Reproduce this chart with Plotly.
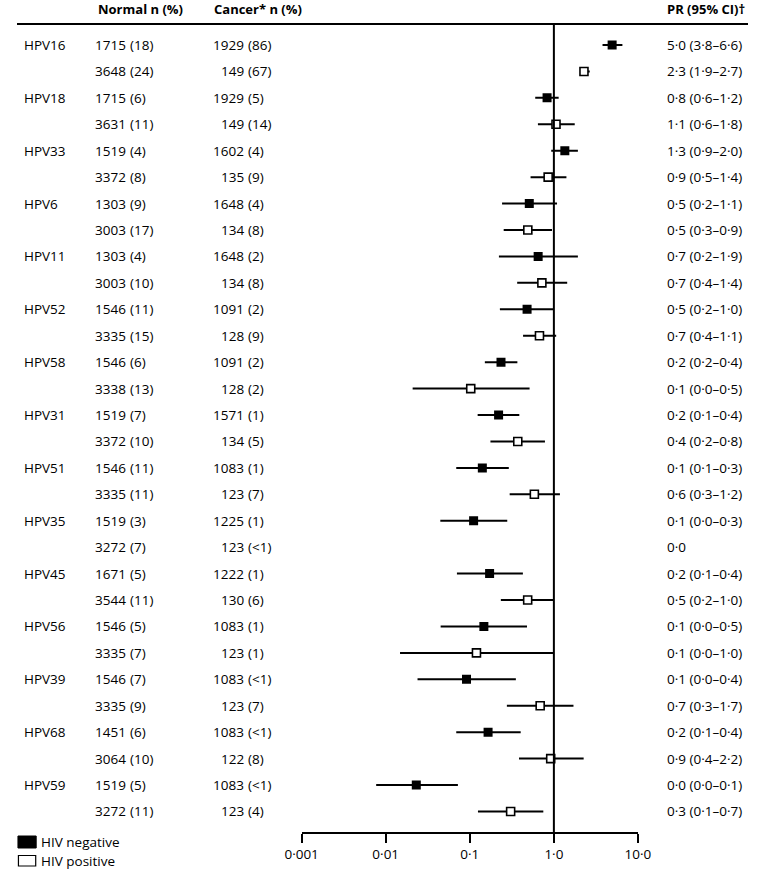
import plotly.graph_objects as go

# ---------------- data ----------------
hpv_types = ["HPV16", "HPV18", "HPV33", "HPV6", "HPV11", "HPV52", "HPV58", "HPV31",
             "HPV51", "HPV35", "HPV45", "HPV56", "HPV39", "HPV68", "HPV59"]

# HIV negative rows
neg_normal_n = ["1715", "1715", "1519", "1303", "1303", "1546", "1546", "1519",
                "1546", "1519", "1671", "1546", "1546", "1451", "1519"]
neg_normal_pct = ["(18)", "(6)", "(4)", "(9)", "(4)", "(11)", "(6)", "(7)",
                  "(11)", "(3)", "(5)", "(5)", "(7)", "(6)", "(5)"]
neg_cancer_n = ["1929", "1929", "1602", "1648", "1648", "1091", "1091", "1571",
                "1083", "1225", "1222", "1083", "1083", "1083", "1083"]
neg_cancer_pct = ["(86)", "(5)", "(4)", "(4)", "(2)", "(2)", "(2)", "(1)",
                  "(1)", "(1)", "(1)", "(1)", "(<1)", "(<1)", "(<1)"]
neg_pr_label = ["5·0 (3·8–6·6)", "0·8 (0·6–1·2)", "1·3 (0·9–2·0)", "0·5 (0·2–1·1)",
                "0·7 (0·2–1·9)", "0·5 (0·2–1·0)", "0·2 (0·2–0·4)", "0·2 (0·1–0·4)",
                "0·1 (0·1–0·3)", "0·1 (0·0–0·3)", "0·2 (0·1–0·4)", "0·1 (0·0–0·5)",
                "0·1 (0·0–0·4)", "0·2 (0·1–0·4)", "0·0 (0·0–0·1)"]
neg_pr = [4.93, 0.83, 1.35, 0.51, 0.65, 0.48, 0.235, 0.22, 0.141, 0.111, 0.172, 0.147, 0.0914, 0.165, 0.0231]
neg_lo = [3.79, 0.60, 0.93, 0.242, 0.222, 0.228, 0.151, 0.124, 0.069, 0.0446, 0.0703, 0.045, 0.0239, 0.069, 0.0077]
neg_hi = [6.53, 1.14, 1.93, 1.09, 1.93, 1.0, 0.368, 0.388, 0.291, 0.279, 0.428, 0.479, 0.353, 0.403, 0.0722]

# HIV positive rows
pos_normal_n = ["3648", "3631", "3372", "3003", "3003", "3335", "3338", "3372",
                "3335", "3272", "3544", "3335", "3335", "3064", "3272"]
pos_normal_pct = ["(24)", "(11)", "(8)", "(17)", "(10)", "(15)", "(13)", "(10)",
                  "(11)", "(7)", "(11)", "(7)", "(9)", "(10)", "(11)"]
pos_cancer_n = ["149", "149", "135", "134", "134", "128", "128", "134",
                "123", "123", "130", "123", "123", "122", "123"]
pos_cancer_pct = ["(67)", "(14)", "(9)", "(8)", "(8)", "(9)", "(2)", "(5)",
                  "(7)", "(<1)", "(6)", "(1)", "(7)", "(8)", "(4)"]
pos_pr_label = ["2·3 (1·9–2·7)", "1·1 (0·6–1·8)", "0·9 (0·5–1·4)", "0·5 (0·3–0·9)",
                "0·7 (0·4–1·4)", "0·7 (0·4–1·1)", "0·1 (0·0–0·5)", "0·4 (0·2–0·8)",
                "0·6 (0·3–1·2)", "0·0", "0·5 (0·2–1·0)", "0·1 (0·0–1·0)",
                "0·7 (0·3–1·7)", "0·9 (0·4–2·2)", "0·3 (0·1–0·7)"]
pos_pr = [2.28, 1.06, 0.855, 0.49, 0.72, 0.674, 0.1026, 0.372, 0.586, None, 0.488, 0.12, 0.687, 0.917, 0.306]
pos_lo = [2.07, 0.646, 0.528, 0.253, 0.366, 0.43, 0.0209, 0.176, 0.298, None, 0.234, 0.0148, 0.276, 0.385, 0.125]
pos_hi = [2.67, 1.77, 1.41, 0.95, 1.44, 1.065, 0.514, 0.783, 1.18, None, 1.0, 1.0, 1.71, 2.26, 0.749]

tick_vals = [0.001, 0.01, 0.1, 1.0, 10.0]
tick_text = ["0·001", "0·01", "0·1", "1·0", "10·0"]

headers = ["Normal n (%)", "Cancer* n (%)", "PR (95% CI)†"]
legend_names = ["HIV negative", "HIV positive"]

# ---------------- layout helpers ----------------
W, H = 762, 871
ROW0_PX, ROW_STEP = 45.0, 26.43
FONT = "Open Sans, Noto Sans, DejaVu Sans, sans-serif"
FS = 13.5


def px(x):
    return x / W


def py(y):
    return 1 - y / H


neg_rows = [2 * i for i in range(len(hpv_types))]
pos_rows = [2 * i + 1 for i in range(len(hpv_types))]


def err_plus(v, hi):
    return [(h - x) if x is not None else 0 for x, h in zip(v, hi)]


def err_minus(v, lo):
    return [(x - l) if x is not None else 0 for x, l in zip(v, lo)]


fig = go.Figure()

fig.add_trace(go.Scatter(
    x=neg_pr, y=neg_rows, mode="markers", name=legend_names[0], showlegend=False,
    marker=dict(symbol="square", size=9, color="black", line=dict(width=0)),
    error_x=dict(type="data", symmetric=False, array=err_plus(neg_pr, neg_hi),
                 arrayminus=err_minus(neg_pr, neg_lo), color="black", thickness=2, width=0),
))
fig.add_trace(go.Scatter(
    x=pos_pr, y=pos_rows, mode="markers", name=legend_names[1], showlegend=False,
    marker=dict(symbol="square", size=8, color="white", line=dict(width=1.6, color="black")),
    error_x=dict(type="data", symmetric=False, array=err_plus(pos_pr, pos_hi),
                 arrayminus=err_minus(pos_pr, pos_lo), color="black", thickness=2, width=0),
))

ann = []


def add_text(xp, row, text, anchor="left"):
    ann.append(dict(x=px(xp), xref="paper", y=row, yref="y", text=text,
                    showarrow=False, xanchor=anchor, yanchor="middle",
                    font=dict(family=FONT, size=FS, color="black")))


for i, t in enumerate(hpv_types):
    rn, rp = neg_rows[i], pos_rows[i]
    add_text(5, rn, t)
    add_text(115.5, rn, neg_normal_n[i], "right")
    add_text(116, rn, neg_normal_pct[i], "left")
    add_text(238.5, rn, neg_cancer_n[i], "right")
    add_text(239, rn, neg_cancer_pct[i], "left")
    add_text(676, rn, neg_pr_label[i])
    add_text(115.5, rp, pos_normal_n[i], "right")
    add_text(116, rp, pos_normal_pct[i], "left")
    add_text(238.5, rp, pos_cancer_n[i], "right")
    add_text(239, rp, pos_cancer_pct[i], "left")
    add_text(676, rp, pos_pr_label[i])

# headers
for xp, h in zip([82, 203, 676], headers):
    ann.append(dict(x=px(xp), xref="paper", y=py(9), yref="paper", text=f"<b>{h}</b>",
                    showarrow=False, xanchor="left", yanchor="middle",
                    font=dict(family=FONT, size=13, color="black")))

# legend text
for yp, name in zip([842, 861], legend_names):
    ann.append(dict(x=px(23), xref="paper", y=py(yp), yref="paper", text=name,
                    showarrow=False, xanchor="left", yanchor="middle",
                    font=dict(family=FONT, size=FS, color="black")))

shapes = [
    # header rule
    dict(type="line", xref="paper", yref="paper", x0=0, x1=1, y0=py(24), y1=py(24),
         line=dict(color="black", width=2)),
    # reference line at PR = 1
    dict(type="line", xref="x", yref="paper", x0=1, x1=1, y0=py(833), y1=py(24),
         line=dict(color="black", width=2)),
    # legend keys
    dict(type="rect", xref="paper", yref="paper", x0=px(1), x1=px(20), y0=py(848), y1=py(836),
         fillcolor="black", line=dict(color="black", width=1)),
    dict(type="rect", xref="paper", yref="paper", x0=px(1.5), x1=px(19.5), y0=py(866), y1=py(855.5),
         fillcolor="white", line=dict(color="black", width=1.2)),
]

fig.update_layout(
    width=W, height=H,
    margin=dict(l=0, r=0, t=0, b=0, pad=0),
    paper_bgcolor="white", plot_bgcolor="rgba(0,0,0,0)",
    showlegend=False,
    annotations=ann, shapes=shapes,
    xaxis=dict(type="log", range=[-3.0001, 1.0001], domain=[px(296.7), px(647.3)],
               anchor="free", position=py(833),
               showline=True, linecolor="black", linewidth=2, showgrid=False, zeroline=False,
               ticks="outside", ticklen=9, tickwidth=2, tickcolor="black",
               tickmode="array", tickvals=tick_vals, ticktext=tick_text,
               tickfont=dict(family=FONT, size=FS, color="black")),
    yaxis=dict(range=[(H - ROW0_PX) / ROW_STEP, -ROW0_PX / ROW_STEP], domain=[0, 1],
               visible=False, showgrid=False, zeroline=False),
    hovermode=False,
)

fig.write_html("out.html",
               config={"displayModeBar": False, "responsive": False},
               post_script="document.body.style.margin='0';document.body.style.overflow='hidden';")
